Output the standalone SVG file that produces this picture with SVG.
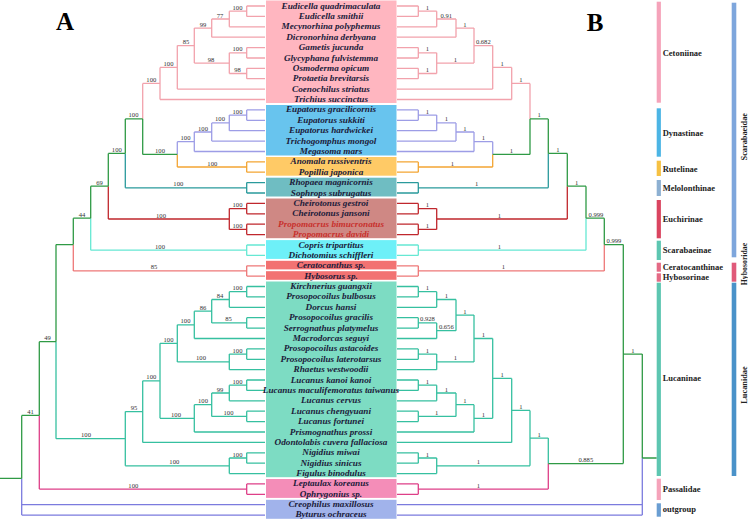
<svg xmlns="http://www.w3.org/2000/svg" width="748" height="519" viewBox="0 0 748 519">
<style>
.t{font-family:"Liberation Serif","Times New Roman",serif;font-weight:bold;font-style:italic;font-size:9.2px;fill:#1b1b3a;text-anchor:middle}
.rd{fill:#c8302c}
.s{font-family:"Liberation Serif","Times New Roman",serif;font-size:6.6px;fill:#333;text-anchor:middle}
.g{font-family:"Liberation Serif","Times New Roman",serif;font-weight:bold;font-size:8.5px;fill:#222}
.f{font-family:"Liberation Serif","Times New Roman",serif;font-weight:bold;font-size:8.3px;fill:#222;text-anchor:middle}
.big{font-family:"Liberation Serif","Times New Roman",serif;font-weight:bold;font-size:25px;fill:#000;text-anchor:middle}
path{fill:none;stroke-width:1.3}
.cet{stroke:#f2a2ac}.dyn{stroke:#9d9de6}.rut{stroke:#f3a533}.mel{stroke:#2a9a9c}.euc{stroke:#c0272d}.sca{stroke:#66e8d3}.hyb{stroke:#ee7878}.luc{stroke:#36c0a0}.pas{stroke:#de3f88}.out{stroke:#7b7bde}.bb{stroke:#2f9a45}
</style>

<g id="connectors">
<!-- Tree A -->
<path class="cet" d="M246.7 6H265M246.7 16.4H265M229.3 26.8H265M211.7 37.2H265M246.7 47.6H265M246.7 58H265M246.7 68.3H265M246.7 78.7H265M177.3 89.1H265M160 99.5H265M246.7 6V16.4M229.3 11.2V26.8M211.7 19V37.2M246.7 47.6V58M246.7 68.3V78.7M229.3 52.8V73.5M194.3 28.1V63.1M177.3 45.6V89.1M160 67.4V99.5M229.3 11.2H246.7M211.7 19H229.3M194.3 28.1H211.7M229.3 52.8H246.7M229.3 73.5H246.7M194.3 63.1H229.3M177.3 45.6H194.3M160 67.4H177.3M142.7 83.4H160M142.7 83.4V118.9"/>
<path class="dyn" d="M246.7 109.9H265M246.7 120.3H265M229.3 130.7H265M211.7 141.1H265M194.3 151.5H265M246.7 109.9V120.3M229.3 115.1V130.7M211.7 122.9V141.1M194.3 132V151.5M229.3 115.1H246.7M211.7 122.9H229.3M194.3 132H211.7M177.3 141.7H194.3M177.3 141.7V154.4"/>
<path class="rut" d="M246.7 161.9H265M246.7 172.2H265M246.7 161.9V172.2M177.3 167H246.7M177.3 154.4V167"/>
<path class="mel" d="M246.7 182.6H265M246.7 193H265M246.7 182.6V193M125.3 187.8H246.7M125.3 153.4V187.8"/>
<path class="euc" d="M246.7 203.4H265M246.7 213.8H265M246.7 224.2H265M246.7 234.6H265M246.7 203.4V213.8M246.7 224.2V234.6M229.3 208.6H246.7M229.3 229.4H246.7M229.3 208.6V229.4M108.3 219H229.3M108.3 186.2V219"/>
<path class="sca" d="M246.7 245H265M246.7 255.4H265M246.7 245V255.4M90.7 250.2H246.7M90.7 218.2V250.2"/>
<path class="hyb" d="M246.7 265.8H265M246.7 276.1H265M246.7 265.8V276.1M73.3 270.9H246.7M73.3 244.6V270.9"/>
<path class="luc" d="M246.7 286.5H265M246.7 296.9H265M229.3 307.3H265M246.7 317.7H265M246.7 328.1H265M194.3 338.5H265M246.7 348.9H265M246.7 359.3H265M229.3 369.7H265M246.7 380H265M246.7 390.4H265M229.3 400.8H265M246.7 411.2H265M246.7 421.6H265M194.3 432H265M142.7 442.4H265M246.7 452.8H265M246.7 463.2H265M229.3 473.6H265M246.7 286.5V296.9M229.3 291.7V307.3M246.7 317.7V328.1M211.7 299.5V322.9M194.3 311.2V338.5M246.7 348.9V359.3M229.3 354.1V369.7M177.3 324.8V361.9M246.7 380V390.4M229.3 385.2V400.8M246.7 411.2V421.6M211.7 393V416.4M194.3 404.7V432M160 343.3V418.3M142.7 380.8V442.4M246.7 452.8V463.2M229.3 458V473.6M125.3 411.6V465.8M56 341.7V438.7M229.3 291.7H246.7M211.7 299.5H229.3M211.7 322.9H246.7M194.3 311.2H211.7M177.3 324.8H194.3M229.3 354.1H246.7M177.3 361.9H229.3M160 343.3H177.3M229.3 385.2H246.7M211.7 393H229.3M211.7 416.4H246.7M194.3 404.7H211.7M160 418.3H194.3M142.7 380.8H160M125.3 411.6H142.7M229.3 458H246.7M125.3 465.8H229.3M56 438.7H125.3"/>
<path class="pas" d="M246.7 483.9H265M246.7 494.3H265M246.7 483.9V494.3M39.3 489.1H246.7M39.3 415.4V489.1"/>
<path class="out" d="M21.7 478.4V515.1M21.7 504.7H265M21.7 515.1H265"/>
<path class="bb" d="M142.7 154.4H177.3M142.7 118.9V154.4M125.3 118.9H142.7M125.3 118.9V153.4M108.3 153.4H125.3M108.3 153.4V186.2M90.7 186.2H108.3M90.7 186.2V218.2M73.3 218.2H90.7M73.3 218.2V244.6M56 244.6H73.3M56 244.6V341.7M39.3 341.7H56M39.3 341.7V415.4M21.7 415.4H39.3M21.7 415.4V478.4M0 478.4H21.7"/>
<!-- Tree B -->
<path class="cet" d="M397 6H418.3M397 16.4H418.3M397 26.8H436.7M397 37.2H456M397 47.6H418.3M397 58H418.3M397 68.3H418.3M397 78.7H418.3M397 89.1H492.7M397 99.5H511.7M418.3 6V16.4M436.7 11.2V26.8M456 19V37.2M418.3 47.6V58M418.3 68.3V78.7M436.7 52.8V73.5M474 28.1V63.1M492.7 45.6V89.1M511.7 67.4V99.5M418.3 11.2H436.7M436.7 19H456M456 28.1H474M418.3 52.8H436.7M418.3 73.5H436.7M436.7 63.1H474M474 45.6H492.7M492.7 67.4H511.7M511.7 83.4H530M530 83.4V118.9"/>
<path class="dyn" d="M397 109.9H418.3M397 120.3H418.3M397 130.7H436.7M397 141.1H456M397 151.5H474M418.3 109.9V120.3M436.7 115.1V130.7M456 122.9V141.1M474 132V151.5M418.3 115.1H436.7M436.7 122.9H456M456 132H474M474 141.7H492.7M492.7 141.7V154.4"/>
<path class="rut" d="M397 161.9H418.3M397 172.2H418.3M418.3 161.9V172.2M418.3 167H492.7M492.7 154.4V167"/>
<path class="mel" d="M397 182.6H418.3M397 193H418.3M418.3 182.6V193M418.3 187.8H548.3M548.3 153.4V187.8"/>
<path class="euc" d="M397 203.4H418.3M397 213.8H418.3M397 224.2H418.3M397 234.6H418.3M418.3 203.4V213.8M418.3 224.2V234.6M418.3 208.6H436.7M418.3 229.4H436.7M436.7 208.6V229.4M436.7 219H567.3M567.3 186.2V219"/>
<path class="sca" d="M397 245H418.3M397 255.4H418.3M418.3 245V255.4M418.3 250.2H586M586 218.2V250.2"/>
<path class="hyb" d="M397 265.8H418.3M397 276.1H418.3M418.3 265.8V276.1M418.3 270.9H604.3M604.3 244.6V270.9"/>
<path class="luc" d="M397 286.5H418.3M397 296.9H418.3M397 307.3H436.7M397 317.7H418.3M397 328.1H418.3M397 338.5H436.7M397 348.9H418.3M397 359.3H418.3M397 369.7H436.7M397 380H418.3M397 390.4H418.3M397 400.8H436.7M397 411.2H418.3M397 421.6H418.3M397 432H474M397 442.4H511.7M397 452.8H418.3M397 463.2H418.3M397 473.6H436.7M418.3 286.5V296.9M436.7 291.7V307.3M418.3 317.7V328.1M436.7 322.9V338.5M456 299.5V330.7M418.3 348.9V359.3M436.7 354.1V369.7M474 315.1V361.9M418.3 380V390.4M436.7 385.2V400.8M418.3 411.2V421.6M456 393V416.4M474 404.7V432M492.7 338.5V418.3M511.7 378.4V442.4M418.3 452.8V463.2M436.7 458V473.6M530 410.4V465.8M548.3 438.1V463.6M418.3 291.7H436.7M436.7 299.5H456M418.3 322.9H436.7M436.7 330.7H456M456 315.1H474M418.3 354.1H436.7M436.7 361.9H474M474 338.5H492.7M418.3 385.2H436.7M436.7 393H456M418.3 416.4H456M456 404.7H474M474 418.3H492.7M492.7 378.4H511.7M511.7 410.4H530M418.3 458H436.7M436.7 465.8H530M530 438.1H548.3"/>
<path class="pas" d="M397 483.9H418.3M397 494.3H418.3M418.3 483.9V494.3M418.3 489.1H548.3M548.3 463.6V489.1"/>
<path class="out" d="M397 504.7H642.3M397 515.1H642.3M642.3 458V515.1"/>
<path class="bb" d="M492.7 154.4H530M530 118.9V154.4M530 118.9H548.3M548.3 118.9V153.4M548.3 153.4H567.3M567.3 153.4V186.2M567.3 186.2H586M586 186.2V218.2M586 218.2H604.3M604.3 218.2V244.6M604.3 244.6H623.3M623.3 244.6V463.6M548.3 463.6H623.3M623.3 354.1H642.3M642.3 354.1V458M642.3 458H656.7"/>
<path d="M380 28L396 36.5M380 36.5L396 28" stroke="#222" stroke-width="0.9"/>
</g>

<g id="supportA">
<text class="s" x="237.5" y="9.7">100</text>
<text class="s" x="220" y="17.5">77</text>
<text class="s" x="203" y="26.6">99</text>
<text class="s" x="237.5" y="51.3">100</text>
<text class="s" x="211" y="61.6">98</text>
<text class="s" x="237.5" y="72">98</text>
<text class="s" x="186" y="44.1">85</text>
<text class="s" x="168.5" y="65.9">100</text>
<text class="s" x="151.3" y="81.9">100</text>
<text class="s" x="237.5" y="113.6">100</text>
<text class="s" x="220" y="121.4">100</text>
<text class="s" x="203" y="130.5">100</text>
<text class="s" x="185.5" y="140.2">100</text>
<text class="s" x="133.5" y="117.4">100</text>
<text class="s" x="160" y="152.9">100</text>
<text class="s" x="212.3" y="165.5">100</text>
<text class="s" x="116.8" y="151.9">100</text>
<text class="s" x="178.3" y="186.3">100</text>
<text class="s" x="99.5" y="184.7">69</text>
<text class="s" x="237.5" y="207.1">100</text>
<text class="s" x="237.5" y="227.9">100</text>
<text class="s" x="161" y="217.5">100</text>
<text class="s" x="82" y="216.7">44</text>
<text class="s" x="160" y="248.7">100</text>
<text class="s" x="154" y="269.4">85</text>
<text class="s" x="237.5" y="290.2">100</text>
<text class="s" x="220" y="298">84</text>
<text class="s" x="228.5" y="321.4">85</text>
<text class="s" x="203" y="309.7">86</text>
<text class="s" x="185.5" y="323.3">100</text>
<text class="s" x="237.5" y="352.6">100</text>
<text class="s" x="201" y="360.4">100</text>
<text class="s" x="168.5" y="341.8">100</text>
<text class="s" x="237.5" y="383.7">100</text>
<text class="s" x="220" y="391.5">99</text>
<text class="s" x="228.5" y="414.9">100</text>
<text class="s" x="203" y="403.2">100</text>
<text class="s" x="176" y="416.8">100</text>
<text class="s" x="151.3" y="379.3">100</text>
<text class="s" x="134" y="410.1">95</text>
<text class="s" x="237.5" y="456.5">100</text>
<text class="s" x="174.3" y="464.3">100</text>
<text class="s" x="86" y="437.2">100</text>
<text class="s" x="133.3" y="487.6">100</text>
<text class="s" x="47.5" y="340.2">49</text>
<text class="s" x="30.5" y="413.9">41</text>
</g>

<g id="supportB">
<text class="s" x="427.5" y="9.7">1</text>
<text class="s" x="446.3" y="17.5">0.91</text>
<text class="s" x="465" y="26.6">1</text>
<text class="s" x="427.5" y="51.3">1</text>
<text class="s" x="427.5" y="72">1</text>
<text class="s" x="455.3" y="61.6">1</text>
<text class="s" x="483.3" y="44.1">0.682</text>
<text class="s" x="502.2" y="65.9">1</text>
<text class="s" x="521" y="81.9">1</text>
<text class="s" x="539.2" y="117.4">1</text>
<text class="s" x="427.5" y="113.6">1</text>
<text class="s" x="446.3" y="121.4">1</text>
<text class="s" x="465" y="130.5">1</text>
<text class="s" x="483.3" y="140.2">1</text>
<text class="s" x="452.3" y="165.5">1</text>
<text class="s" x="511.3" y="152.9">1</text>
<text class="s" x="558" y="151.9">1</text>
<text class="s" x="476.7" y="186.3">1</text>
<text class="s" x="576.7" y="184.7">1</text>
<text class="s" x="427.5" y="207.1">1</text>
<text class="s" x="427.5" y="227.9">1</text>
<text class="s" x="499.3" y="217.5">1</text>
<text class="s" x="596" y="216.7">0.999</text>
<text class="s" x="499.3" y="248.7">1</text>
<text class="s" x="614" y="243.1">0.999</text>
<text class="s" x="503.3" y="269.4">1</text>
<text class="s" x="427.5" y="290.2">1</text>
<text class="s" x="446.3" y="298">1</text>
<text class="s" x="427.5" y="321.4">0.928</text>
<text class="s" x="446.3" y="329.2">0.656</text>
<text class="s" x="465" y="313.6">1</text>
<text class="s" x="427.5" y="352.6">1</text>
<text class="s" x="455.3" y="360.4">1</text>
<text class="s" x="483.3" y="337">1</text>
<text class="s" x="427.5" y="383.7">1</text>
<text class="s" x="446.3" y="391.5">1</text>
<text class="s" x="436.7" y="414.9">1</text>
<text class="s" x="465" y="403.2">1</text>
<text class="s" x="483.3" y="416.8">1</text>
<text class="s" x="502.2" y="376.9">1</text>
<text class="s" x="521" y="408.9">1</text>
<text class="s" x="427.5" y="456.5">1</text>
<text class="s" x="478.3" y="464.3">1</text>
<text class="s" x="539.2" y="436.6">1</text>
<text class="s" x="478.3" y="487.6">1</text>
<text class="s" x="585.8" y="462.1">0.885</text>
<text class="s" x="632.8" y="352.6">1</text>
</g>

<g id="panel-labels">
<text class="big" x="65" y="30">A</text>
<text class="big" x="595" y="30.5">B</text>
</g>

<g id="node-cetoniinae">
<rect x="266" y="0.5" width="130.5" height="102.5" fill="#ffb6c0"/>
<text class="t" x="331" y="8.5">Eudicella quadrimaculata</text>
<text class="t" x="331" y="18.9">Eudicella smithii</text>
<text class="t" x="331" y="29.3">Mecynorhina polyphemus</text>
<text class="t" x="331" y="39.7">Dicronorhina derbyana</text>
<text class="t" x="331" y="50.1">Gametis jucunda</text>
<text class="t" x="331" y="60.5">Glycyphana fulvistemma</text>
<text class="t" x="331" y="70.8">Osmoderma opicum</text>
<text class="t" x="331" y="81.2">Protaetia brevitarsis</text>
<text class="t" x="331" y="91.6">Coenochilus striatus</text>
<text class="t" x="331" y="102">Trichius succinctus</text>
</g>
<g id="node-dynastinae">
<rect x="266" y="105" width="130.5" height="50.5" fill="#68c4ee"/>
<text class="t" x="331" y="112.4">Eupatorus gracilicornis</text>
<text class="t" x="331" y="122.8">Eupatorus sukkiti</text>
<text class="t" x="331" y="133.2">Eupatorus hardwickei</text>
<text class="t" x="331" y="143.6">Trichogomphus mongol</text>
<text class="t" x="331" y="154">Megasoma mars</text>
</g>
<g id="node-rutelinae">
<rect x="266" y="157" width="130.5" height="18.7" fill="#ffca66"/>
<text class="t" x="331" y="164.4">Anomala russiventris</text>
<text class="t" x="331" y="174.7">Popillia japonica</text>
</g>
<g id="node-melolonthinae">
<rect x="266" y="177.7" width="130.5" height="18.8" fill="#6fbdc2"/>
<text class="t" x="331" y="185.1">Rhopaea magnicornis</text>
<text class="t" x="331" y="195.5">Sophrops subrugatus</text>
</g>
<g id="node-euchirinae">
<rect x="266" y="198.5" width="130.5" height="39.7" fill="#cf8884"/>
<text class="t" x="331" y="205.9">Cheirotonus gestroi</text>
<text class="t" x="331" y="216.3">Cheirotonus jansoni</text>
<text class="t rd" x="331" y="226.7">Propomacrus bimucronatus</text>
<text class="t rd" x="331" y="237.1">Propomacrus davidi</text>
</g>
<g id="node-scarabaeinae">
<rect x="266" y="240.1" width="130.5" height="18.8" fill="#6ef0f8"/>
<text class="t" x="331" y="247.5">Copris tripartitus</text>
<text class="t" x="331" y="257.9">Dichotomius schiffleri</text>
</g>
<g id="node-ceratocanthus">
<rect x="266" y="260.8" width="130.5" height="8.6" fill="#f27272"/>
<text class="t" x="331" y="268.3">Ceratocanthus sp.</text>
</g>
<g id="node-hybosorus">
<rect x="266" y="271.2" width="130.5" height="8.6" fill="#f27272"/>
<text class="t" x="331" y="278.6">Hybosorus sp.</text>
</g>
<g id="node-lucaninae">
<rect x="266" y="281.5" width="130.5" height="195.7" fill="#7ddcc3"/>
<text class="t" x="331" y="289">Kirchnerius guangxii</text>
<text class="t" x="331" y="299.4">Prosopocoilus bulbosus</text>
<text class="t" x="331" y="309.8">Dorcus hansi</text>
<text class="t" x="331" y="320.2">Prosopocoilus gracilis</text>
<text class="t" x="331" y="330.6">Serrognathus platymelus</text>
<text class="t" x="331" y="341">Macrodorcas seguyi</text>
<text class="t" x="331" y="351.4">Prosopocoilus astacoides</text>
<text class="t" x="331" y="361.8">Prosopocoilus laterotarsus</text>
<text class="t" x="331" y="372.2">Rhaetus westwoodii</text>
<text class="t" x="331" y="382.5">Lucanus kanoi kanoi</text>
<text class="t" x="331" y="392.9">Lucanus maculifemoratus taiwanus</text>
<text class="t" x="331" y="403.3">Lucanus cervus</text>
<text class="t" x="331" y="413.7">Lucanus chengyuani</text>
<text class="t" x="331" y="424.1">Lucanus fortunei</text>
<text class="t" x="331" y="434.5">Prismognathus prossi</text>
<text class="t" x="331" y="444.9">Odontolabis cuvera fallaciosa</text>
<text class="t" x="331" y="455.3">Nigidius miwai</text>
<text class="t" x="331" y="465.7">Nigidius sinicus</text>
<text class="t" x="331" y="476.1">Figulus binodulus</text>
</g>
<g id="node-passalidae">
<rect x="266" y="479" width="130.5" height="18.9" fill="#f48db8"/>
<text class="t" x="331" y="486.4">Leptaulax koreanus</text>
<text class="t" x="331" y="496.8">Ophrygonius sp.</text>
</g>
<g id="node-outgroup">
<rect x="266" y="499.8" width="130.5" height="19" fill="#a1b3eb"/>
<text class="t" x="331" y="507.2">Creophilus maxillosus</text>
<text class="t" x="331" y="517.4">Byturus ochraceus</text>
</g>

<g id="subfamily-bars">
<rect x="656.7" y="1.7" width="4.2" height="101" fill="#f5a3ba"/>
<rect x="656.7" y="108.3" width="4.2" height="48.4" fill="#4cb5e5"/>
<rect x="656.7" y="160.7" width="4.2" height="15.3" fill="#f6c143"/>
<rect x="656.7" y="180" width="4.2" height="16" fill="#8db0d2"/>
<rect x="656.7" y="200" width="4.2" height="38.3" fill="#da4560"/>
<rect x="656.7" y="240.7" width="4.2" height="19.3" fill="#5dc6b1"/>
<rect x="656.7" y="262.7" width="4.2" height="9" fill="#e46a85"/>
<rect x="656.7" y="273.3" width="4.2" height="8.4" fill="#e46a85"/>
<rect x="656.7" y="282.7" width="4.2" height="193.3" fill="#5dc6b1"/>
<rect x="656.7" y="478.7" width="4.2" height="21.3" fill="#f5a3ba"/>
<rect x="656.7" y="503.3" width="4.2" height="13.4" fill="#6a9ed2"/>
<text class="g" x="662.7" y="56.1">Cetoniinae</text>
<text class="g" x="662.7" y="136.1">Dynastinae</text>
<text class="g" x="662.7" y="171.8">Rutelinae</text>
<text class="g" x="662.7" y="191.1">Melolonthinae</text>
<text class="g" x="662.7" y="222.1">Euchirinae</text>
<text class="g" x="662.7" y="252.8">Scarabaeinae</text>
<text class="g" x="662.7" y="270.1">Ceratocanthinae</text>
<text class="g" x="662.7" y="280.1">Hybosorinae</text>
<text class="g" x="662.7" y="381.1">Lucaninae</text>
<text class="g" x="662.7" y="492.1">Passalidae</text>
<text class="g" x="662.7" y="512.1">outgroup</text>
</g>

<g id="family-bars">
<rect x="731.7" y="2.7" width="4.6" height="254.6" fill="#7ea6dc"/>
<rect x="731.7" y="262.7" width="4.6" height="19" fill="#e05a7a"/>
<rect x="731.7" y="282.7" width="4.6" height="193.3" fill="#4a92c9"/>
<text class="f" transform="translate(747,136.7) rotate(-90)">Scarabaeidae</text>
<text class="f" transform="translate(747,264) rotate(-90)" style="font-size:7.8px">Hybosoridae</text>
<text class="f" transform="translate(747,385) rotate(-90)">Lucanidae</text>
</g>
</svg>
